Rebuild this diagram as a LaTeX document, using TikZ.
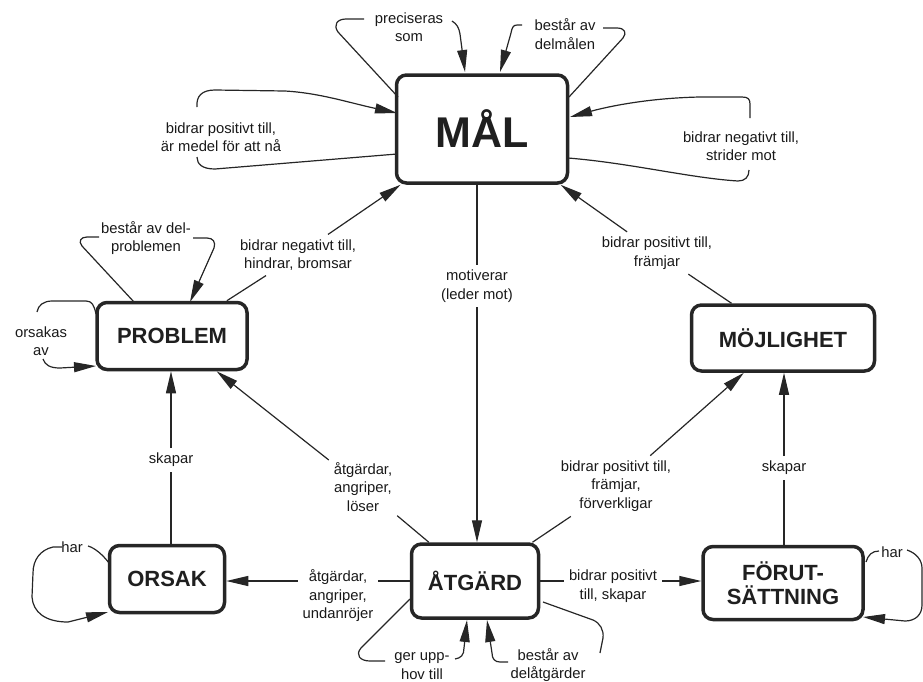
\documentclass[tikz,border=0pt]{standalone}
\usepackage{fontspec}
\setmainfont{Liberation Sans}
\usetikzlibrary{arrows.meta}
\begin{document}
\begin{tikzpicture}[x=1pt,y=-1pt,
  box/.style={draw=black!85, line width=3.5pt, rounded corners=10pt, fill=white,
    font=\bfseries\fontsize{22}{24}\selectfont, align=center, inner sep=0pt, text=black!88},
  lbl/.style={font=\fontsize{14.8}{18.5}\selectfont, align=center, inner sep=1pt, outer sep=4pt, text=black!90},
  con/.style={line width=1.2pt, draw=black!85},
  arr/.style={con, -{Triangle[length=22pt,width=10pt]}},
]
\useasboundingbox (0,0) rectangle (923,681);

% boxes
\node[box, minimum width=171pt, minimum height=108pt, font=\bfseries\fontsize{43}{45}\selectfont] (mal) at (482,129) {MÅL};
\node[box, minimum width=150pt, minimum height=67pt] (problem) at (172,336) {PROBLEM};
\node[box, minimum width=115pt, minimum height=67pt] (orsak) at (167,579) {ORSAK};
\node[box, minimum width=127pt, minimum height=74pt] (atgard) at (475,581) {ÅTGÄRD};
\node[box, minimum width=183pt, minimum height=66pt] (mojlighet) at (783,338) {MÖJLIGHET};
\node[box, minimum width=160pt, minimum height=73pt] (forut) at (783,583) {FÖRUT-\\SÄTTNING};

% labels
\node[lbl] (pre) at (409,27) {preciseras\\som};
\node[lbl] (del) at (565,34) {består av\\delmålen};
\node[lbl] (l3) at (221,137) {bidrar positivt till,\\är medel för att nå};
\node[lbl] (l4) at (741,146) {bidrar negativt till,\\strider mot};
\node[lbl] (l5) at (298,255) {bidrar negativt till,\\hindrar, bromsar};
\node[lbl] (l6) at (146,238) {består av del-\\problemen};
\node[lbl] (l7) at (41,341) {orsakas\\av};
\node[lbl] (l8) at (171,460) {skapar};
\node[lbl] (l9) at (363,487) {åtgärdar,\\angriper,\\löser};
\node[lbl] (l10) at (338,596) {åtgärdar,\\angriper,\\undanröjer};
\node[lbl] (l11) at (72,547) {har};
\node[lbl] (l12) at (477,286) {motiverar\\(leder mot)};
\node[lbl] (l13) at (657,253) {bidrar positivt till,\\främjar};
\node[lbl] (l14) at (616,486) {bidrar positivt till,\\främjar,\\förverkligar};
\node[lbl] (l15) at (784,468) {skapar};
\node[lbl] (l16) at (613,586) {bidrar positivt\\till, skapar};
\node[lbl] (l17) at (892,552) {har};
\node[lbl] (l18) at (422,666) {ger upp-\\hov till};
\node[lbl] (l19) at (548,665) {består av\\delåtgärder};

% straight connectors through labels
\draw[arr] (l5) -- (mal);
\draw[con] (l5) -- (problem);
\draw[arr] (l13) -- (mal);
\draw[con] (l13) -- (mojlighet);
\draw[arr] (l9) -- (problem);
\draw[con] (l9) -- (atgard);
\draw[arr] (l14) -- (mojlighet);
\draw[con] (l14) -- (atgard);
\draw[con] (l12 |- mal.south) -- (l12);
\draw[arr] (l12) -- (l12 |- atgard.north);
\draw[con] (l8 |- orsak.north) -- (l8);
\draw[arr] (l8) -- (l8 |- problem.south);
\draw[con] (l15 |- forut.north) -- (l15);
\draw[arr] (l15) -- (l15 |- mojlighet.south);
\draw[con] (atgard.west) -- (atgard.west -| l10.east);
\draw[arr] (atgard.west -| l10.west) -- (orsak.east |- atgard.west);
\draw[con] (atgard.east) -- (atgard.east -| l16.west);
\draw[arr] (atgard.east -| l16.east) -- (forut.west |- atgard.east);

% self loops on MAL
\draw[con] (364,19) -- (346,19) .. controls (337,19) and (333,25) .. (338,32) -- (398,97);
\draw[arr] (452,21) .. controls (457,24) and (459,28) .. (460,34) -- (465,72);
\draw[arr] (522,25) -- (517,25) .. controls (513,25) and (512,28) .. (511,33) -- (500,72);
\draw[con] (603,28) -- (617,28) .. controls (625,28) and (627,33) .. (623,38) -- (569,97);
\draw[arr] (197,107) .. controls (196,96) and (202,90) .. (215,90) -- (285,91) .. controls (320,93) and (350,103) .. (397,113);
\draw[con] (197,157) .. controls (197,164) and (202,169) .. (215,169) -- (397,154);
\draw[arr] (750,118) -- (750,104) .. controls (750,99) and (748,97) .. (742,97) -- (700,97) .. controls (650,98) and (610,106) .. (570,117);
\draw[con] (568,158) .. controls (630,163) and (690,178) .. (738,181) .. controls (745,181) and (749,177) .. (749,170);

% self loops on PROBLEM
\draw[con] (99,237) -- (87,237) .. controls (81,237) and (78,241) .. (82,246) -- (134,302);
\draw[arr] (193,238) -- (207,238) .. controls (213,238) and (216,242) .. (214,248) -- (190,302);
\draw[con] (96,314) .. controls (94,305) and (92,301) .. (86,301) -- (52,301) .. controls (44,301) and (38,305) .. (37,312);
\draw[arr] (43,359) .. controls (45,365) and (50,368) .. (60,368) -- (96,366);

% self loop on ORSAK
\draw[con] (88,546) .. controls (95,548) and (103,555) .. (109,563);
\draw[arr] (62,547) -- (53,547) .. controls (40,550) and (33,560) .. (33,573) -- (32,597) .. controls (33,612) and (45,622) .. (68,622) -- (108,612);

% self loop on FORUTSATTNING
\draw[con] (866,562) .. controls (868,555) and (872,551) .. (879,551);
\draw[arr] (907,550) .. controls (916,553) and (922,560) .. (922,568) -- (922,605) .. controls (922,615) and (915,621) .. (905,621) -- (863,617);

% self loops on ATGARD
\draw[con] (410,599) -- (361,648) .. controls (355,655) and (360,661) .. (370,661) -- (385,661);
\draw[arr] (455,659) .. controls (461,658) and (464,655) .. (464,648) -- (467,620);
\draw[arr] (508,662) -- (500,662) .. controls (495,662) and (492,659) .. (492,653) -- (487,620);
\draw[con] (543,602) -- (593,620) .. controls (600,623) and (604,630) .. (603,638) -- (600,653);
\end{tikzpicture}
\end{document}
